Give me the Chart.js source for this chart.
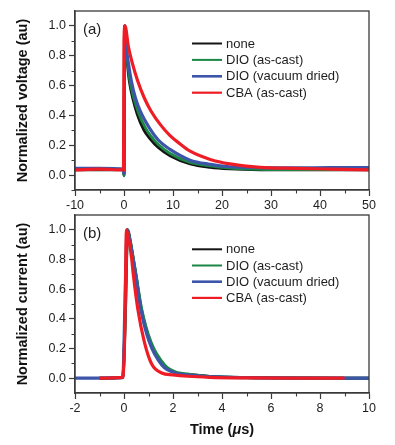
<!DOCTYPE html>
<html>
<head>
<meta charset="utf-8">
<title>Normalized voltage and current transients</title>
<script src="https://cdn.jsdelivr.net/npm/chart.js@4.4.0/dist/chart.umd.min.js"></script>
<style>
  body { margin: 0; background: #fff; }
  #wrap { position: relative; width: 395px; height: 445px; overflow: hidden; }
  #wrap canvas { position: absolute; left: 0; }
  #voltageChart { top: 0; }
  #currentChart { top: 204px; }
</style>
</head>
<body>
<div id="wrap">
  <canvas id="voltageChart" width="395" height="215"></canvas>
  <canvas id="currentChart" width="395" height="241"></canvas>
</div>
<script>
// Series names and colours (legend order)
const seriesLabels = ['none', 'DIO (as-cast)', 'DIO (vacuum dried)', 'CBA (as-cast)'];
const seriesColors = ['#141414', '#1b8745', '#3d55a8', '#ee1d25'];

// Tick labels
const yTicks = [0.0, 0.2, 0.4, 0.6, 0.8, 1.0];
const xTicksVoltage = [-10, 0, 10, 20, 30, 40, 50];
const xTicksCurrent = [-2, 0, 2, 4, 6, 8, 10];

// (a) normalized voltage, time in us
const noneTimeA    = [-10, -5, -0.1, 0, 0.15, 0.4, 0.7, 1.1, 1.84, 2.7, 4.1, 5.3, 7, 9.4, 13.5, 17.6, 21.6, 27.8, 35, 42, 50];
const noneVoltage  = [0.035, 0.035, 0.035, 0.0, 1.0, 0.86, 0.75, 0.63, 0.51, 0.41, 0.30, 0.245, 0.185, 0.13, 0.075, 0.052, 0.042, 0.036, 0.035, 0.035, 0.035];
const dioTimeA     = [-10, -5, -0.1, 0, 0.15, 0.4, 0.76, 1.22, 1.97, 2.93, 4.4, 5.3, 7, 9.4, 13.5, 17.6, 21.6, 27.8, 35, 42, 50];
const dioVoltage   = [0.04, 0.04, 0.04, -0.005, 1.0, 0.86, 0.75, 0.63, 0.52, 0.42, 0.315, 0.27, 0.205, 0.145, 0.085, 0.061, 0.047, 0.038, 0.036, 0.036, 0.036];
const vacTimeA     = [-10, -5, -0.1, 0, 0.15, 0.45, 0.9, 1.5, 2.3, 3.3, 5.3, 7, 9.4, 13.5, 17.6, 21.6, 27.8, 35, 42, 50];
const vacVoltage   = [0.045, 0.045, 0.04, 0.01, 1.0, 0.86, 0.75, 0.63, 0.52, 0.43, 0.31, 0.235, 0.172, 0.1, 0.072, 0.056, 0.05, 0.048, 0.05, 0.05];
const cbaTimeA     = [-10, -5, -0.1, 0, 0.2, 0.9, 1.7, 2.8, 4.1, 5.5, 7.5, 9.4, 11.4, 13.5, 17.6, 21.6, 27.8, 35, 42, 50];
const cbaVoltage   = [0.035, 0.04, 0.035, 0.9, 1.0, 0.86, 0.75, 0.63, 0.52, 0.43, 0.335, 0.265, 0.21, 0.16, 0.105, 0.075, 0.052, 0.045, 0.04, 0.035];

// (b) normalized current, time in us
const noneTimeB    = [-1, -0.05, 0.05, 0.15, 0.25, 0.37, 0.48, 0.70, 1.07, 1.6, 2.15, 2.6, 3.5, 5, 7, 10];
const noneCurrent  = [0, 0.005, 0.4, 1.0, 0.93, 0.81, 0.70, 0.47, 0.245, 0.088, 0.033, 0.024, 0.012, 0.004, 0.001, 0];
const dioTimeB     = [-1, -0.05, 0.05, 0.15, 0.25, 0.38, 0.49, 0.72, 1.1, 1.67, 2.2, 2.6, 3.5, 5, 7, 10];
const dioCurrent   = [0, 0.005, 0.4, 1.0, 0.93, 0.81, 0.70, 0.47, 0.245, 0.088, 0.037, 0.028, 0.012, 0.004, 0.001, 0];
const vacTimeB     = [-2, -0.05, 0.04, 0.13, 0.23, 0.36, 0.47, 0.68, 1.03, 1.55, 2.1, 2.6, 3.5, 5, 7, 10];
const vacCurrent   = [0, 0.003, 0.5, 1.0, 0.93, 0.81, 0.70, 0.47, 0.245, 0.088, 0.035, 0.022, 0.01, 0.003, 0, 0];
const cbaTimeB     = [-1, -0.05, 0.03, 0.1, 0.2, 0.31, 0.38, 0.56, 0.83, 1.13, 1.54, 2.0, 2.6, 3.5, 5, 7, 9];
const cbaCurrent   = [0, 0.005, 0.3, 1.0, 0.93, 0.81, 0.70, 0.47, 0.245, 0.095, 0.035, 0.022, 0.013, 0.006, 0.002, 0, 0];

const FONT = "'Liberation Sans', Arial, Helvetica, sans-serif";
const AXIS_COLOR = '#3a3a3a';
const TEXT_COLOR = '#1e1e1e';

function toPoints(times, values) {
    return times.map((t, i) => ({ x: t, y: values[i] }));
}

function midpoints(ticks) {
    return ticks.slice(1).map((v, i) => (v + ticks[i]) / 2);
}

function makeDatasets(pairs) {
    const widths = [3, 2.8, 3.2, 3.2];
    const order = [3, 2, 1, 0];
    return pairs.map((p, i) => ({
        label: seriesLabels[i],
        data: toPoints(p[0], p[1]),
        borderColor: seriesColors[i],
        borderWidth: widths[i],
        pointRadius: 0,
        cubicInterpolationMode: 'monotone',
        order: order[i]
    }));
}

// Frame, minor ticks, in-plot legend and panel letters
const decorPlugin = {
    id: 'decor',
    afterDraw(chart, args, opts) {
        const { ctx, chartArea: a, scales: { x, y } } = chart;
        ctx.save();

        // box round the plot
        ctx.strokeStyle = AXIS_COLOR;
        ctx.lineWidth = 1.3;
        ctx.strokeRect(a.left, a.top, a.right - a.left, a.bottom - a.top);

        // minor ticks
        ctx.lineWidth = 1.1;
        ctx.beginPath();
        opts.xMinor.forEach(v => {
            const px = Math.round(x.getPixelForValue(v)) + 0.5;
            ctx.moveTo(px, a.bottom);
            ctx.lineTo(px, a.bottom + 3.5);
        });
        opts.yMinor.forEach(v => {
            const py = Math.round(y.getPixelForValue(v)) + 0.5;
            ctx.moveTo(a.left, py);
            ctx.lineTo(a.left - 3.5, py);
        });
        ctx.stroke();

        // panel letter
        ctx.fillStyle = TEXT_COLOR;
        ctx.font = '15px ' + FONT;
        ctx.textBaseline = 'middle';
        ctx.textAlign = 'left';
        ctx.fillText(opts.letter, a.left + 8, a.top + 19);

        // legend
        const lg = opts.legend;
        ctx.font = '13px ' + FONT;
        seriesLabels.forEach((name, i) => {
            const yy = lg.top + i * lg.step;
            ctx.strokeStyle = seriesColors[i];
            ctx.lineWidth = lg.widths[i];
            ctx.beginPath();
            ctx.moveTo(lg.x1, yy);
            ctx.lineTo(lg.x2, yy);
            ctx.stroke();
            ctx.fillStyle = TEXT_COLOR;
            ctx.fillText(name, lg.x2 + 4, yy + 0.5);
        });

        // x axis title with italic mu
        if (opts.xTitle) {
            const parts = [['bold', 'Time ('], ['italic bold', 'μ'], ['bold', 's)']];
            const size = '14.5px ';
            let total = 0;
            parts.forEach(p => { ctx.font = p[0] + ' ' + size + FONT; total += ctx.measureText(p[1]).width; });
            let cx = (a.left + a.right) / 2 - total / 2;
            ctx.fillStyle = '#111';
            parts.forEach(p => {
                ctx.font = p[0] + ' ' + size + FONT;
                ctx.fillText(p[1], cx, opts.xTitleY);
                cx += ctx.measureText(p[1]).width;
            });
        }
        ctx.restore();
    }
};

function buildChart(canvasId, datasets, xTicks, yTitle, xHeight, decor) {
    const ctx = document.getElementById(canvasId).getContext('2d');
    return new Chart(ctx, {
        type: 'line',
        data: { datasets: datasets },
        options: {
            responsive: false,
            animation: false,
            events: [],
            layout: { padding: { left: 0, right: 26, top: 11, bottom: 0 } },
            plugins: {
                legend: { display: false },
                tooltip: { enabled: false },
                decor: decor
            },
            scales: {
                x: {
                    type: 'linear',
                    min: xTicks[0],
                    max: xTicks[xTicks.length - 1],
                    afterBuildTicks: (scale) => { scale.ticks = xTicks.map(v => ({ value: v })); },
                    afterFit: (scale) => { scale.height = xHeight; },
                    grid: { drawOnChartArea: false, drawTicks: true, tickLength: 6, tickColor: AXIS_COLOR, tickWidth: 1.2 },
                    border: { display: true, color: AXIS_COLOR, width: 1.3 },
                    ticks: {
                        padding: 2,
                        maxRotation: 0,
                        color: TEXT_COLOR,
                        font: { family: FONT, size: 12.5 },
                        callback: (v) => String(v)
                    }
                },
                y: {
                    min: -0.1,
                    max: 1.1,
                    afterBuildTicks: (scale) => { scale.ticks = yTicks.map(v => ({ value: v })); },
                    afterFit: (scale) => { scale.width = 75; },
                    grid: { drawOnChartArea: false, drawTicks: true, tickLength: 6, tickColor: AXIS_COLOR, tickWidth: 1.2 },
                    border: { display: true, color: AXIS_COLOR, width: 1.3 },
                    ticks: {
                        padding: 3,
                        color: TEXT_COLOR,
                        font: { family: FONT, size: 12.5 },
                        callback: (v) => Number(v).toFixed(1)
                    },
                    title: {
                        display: true,
                        text: yTitle,
                        color: '#111',
                        font: { family: FONT, size: 14.5, weight: 'bold' },
                        padding: { top: 14, bottom: 0 }
                    }
                }
            }
        },
        plugins: [decorPlugin]
    });
}

const legendWidths = [2, 2, 2.6, 2.2];

buildChart('voltageChart',
    makeDatasets([[noneTimeA, noneVoltage], [dioTimeA, dioVoltage], [vacTimeA, vacVoltage], [cbaTimeA, cbaVoltage]]),
    xTicksVoltage, 'Normalized voltage (au)', 25,
    {
        letter: '(a)',
        xMinor: midpoints(xTicksVoltage),
        yMinor: midpoints(yTicks).concat([-0.1 + 0.0001]),
        legend: { x1: 192, x2: 222, top: 43.5, step: 16.4, widths: legendWidths }
    });

buildChart('currentChart',
    makeDatasets([[noneTimeB, noneCurrent], [dioTimeB, dioCurrent], [vacTimeB, vacCurrent], [cbaTimeB, cbaCurrent]]),
    xTicksCurrent, 'Normalized current (au)', 52,
    {
        letter: '(b)',
        xMinor: midpoints(xTicksCurrent),
        yMinor: midpoints(yTicks),
        legend: { x1: 192, x2: 222, top: 45.3, step: 16.2, widths: legendWidths },
        xTitle: true,
        xTitleY: 226
    });
</script>
</body>
</html>
